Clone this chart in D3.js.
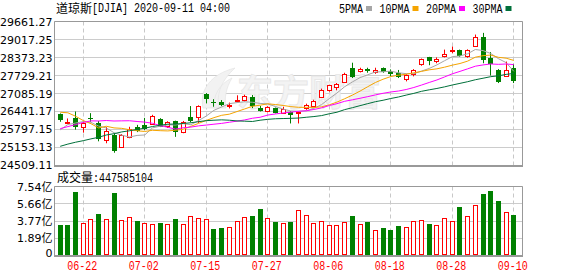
<!DOCTYPE html>
<html lang="zh">
<head>
<meta charset="UTF-8">
<title>道琼斯[DJIA]</title>
<script src="https://d3js.org/d3.v7.min.js"></script>
<style>
  body { margin: 0; background: #fff; }
  svg { display: block; }
  .ylab text { font-family: "DejaVu Sans", "Noto Sans CJK SC", sans-serif; font-size: 11px; fill: #000; }
  .mono { font-family: "Liberation Mono", "Noto Sans CJK SC", monospace; font-size: 13px; fill: #000; }
  .cjk { font-family: "Noto Sans CJK SC", sans-serif; font-size: 12px; fill: #000; }
</style>
</head>
<body>
<svg id="chart" width="578" height="276"></svg>
<script>
// ---- data ----
const dates = [
  "06-17","06-18","06-19","06-22","06-23","06-24","06-25","06-26","06-29","06-30",
  "07-01","07-02","07-06","07-07","07-08","07-09","07-10","07-13","07-14","07-15",
  "07-16","07-17","07-20","07-21","07-22","07-23","07-24","07-27","07-28","07-29",
  "07-30","07-31","08-03","08-04","08-05","08-06","08-07","08-10","08-11","08-12",
  "08-13","08-14","08-17","08-18","08-19","08-20","08-21","08-24","08-25","08-26",
  "08-27","08-28","08-31","09-01","09-02","09-03","09-04","09-08","09-09","09-10"];

const opens = [26340,26030,26213,25900,26210,26030,25420,25610,25150,25520,
  25880,25960,26000,26170,25920,26100,25710,26250,26250,27060,
  26770,26780,26650,26800,26850,26950,26560,26460,26550,26400,
  26430,26390,26560,26630,26950,27210,27310,27510,27990,27880,
  27960,27850,28000,27880,27830,27610,27780,28130,28380,28250,
  28420,28600,28650,28440,28780,29120,28350,27940,27720,28000];
const highs = [26370,26190,26440,26080,26380,26100,25880,25660,25630,25890,
  25960,26210,26320,26200,26090,26110,26100,26635,26660,27100,
  26880,26850,26760,27020,27040,27030,26640,26630,26580,26610,
  26450,26440,26720,26860,27260,27400,27460,27830,28190,28010,
  28010,28010,28020,27950,27930,27780,27960,28340,28400,28380,
  28660,28770,28660,28670,29200,29260,28570,27960,28230,28150];
const lows = [26070,26000,25790,25680,26070,25370,25300,24960,25130,25480,
  25700,25770,25990,25880,25850,25530,25660,26050,26030,26730,
  26610,26630,26550,26780,26800,26560,26440,26410,26370,26370,
  26010,26010,26500,26600,26940,27150,27200,27460,27640,27840,
  27830,27790,27830,27700,27640,27520,27700,28080,28100,28170,
  28380,28530,28400,28370,28770,28170,27730,27460,27690,27460];
const closes = [26120,26080,25871,26025,26156,25446,25746,25016,25596,25813,
  25735,25827,26287,25890,26067,25706,26075,26086,26643,26870,
  26735,26672,26681,26840,27006,26652,26470,26585,26379,26540,
  26314,26428,26664,26828,27202,27387,27433,27791,27687,27977,
  27897,27931,27845,27778,27693,27740,27930,28308,28248,28332,
  28492,28654,28430,28646,29100,28293,28133,27501,27940,27535];
const prevClose = 26290; // 06-16, sets the colour of the first volume bar

const volumes = [333000000,333000000,699000000,352000000,396000000,454000000,396000000,685000000,388000000,418000000,
  377000000,355000000,341000000,355000000,341000000,396000000,341000000,428000000,406000000,396000000,
  289000000,300000000,311000000,377000000,418000000,432000000,509000000,406000000,366000000,352000000,
  366000000,494000000,440000000,352000000,374000000,330000000,330000000,363000000,432000000,341000000,
  366000000,278000000,300000000,278000000,322000000,308000000,374000000,385000000,344000000,330000000,
  406000000,374000000,531000000,428000000,549000000,674000000,707000000,597000000,472000000,447585104];

const ma5 = [25781,25972,26025,26077,26050,25916,25849,25678,25592,25523,
  25581,25597,25852,25910,25961,25955,26005,25965,26115,26276,
  26482,26601,26720,26760,26787,26770,26730,26711,26618,26525,
  26458,26449,26465,26555,26687,26902,27103,27328,27500,27655,
  27757,27857,27867,27886,27829,27797,27797,27890,27984,28112,
  28262,28407,28431,28511,28664,28625,28520,28335,28193,27880];
const ma10 = [26413,26393,26269,26115,26003,25849,25910,25851,25835,25787,
  25748,25723,25765,25751,25742,25768,25801,25908,26013,26119,
  26219,26303,26343,26438,26531,26626,26666,26715,26689,26656,
  26614,26590,26588,26587,26606,26680,26776,26897,27027,27171,
  27329,27480,27598,27693,27742,27777,27827,27879,27935,27970,
  28030,28102,28161,28247,28388,28443,28464,28383,28352,28272];
const ma20 = [25823,25898,25968,26046,26104,26099,26116,26098,26104,26108,
  26081,26058,26017,25933,25873,25808,25856,25880,25924,25953,
  25984,26013,26054,26094,26137,26197,26233,26312,26351,26387,
  26416,26446,26465,26512,26569,26653,26721,26806,26858,26914,
  26972,27035,27093,27140,27174,27228,27301,27388,27481,27571,
  27680,27791,27879,27970,28065,28110,28145,28131,28144,28121];
const ma30 = [25190,25270,25337,25393,25457,25514,25597,25643,25707,25747,
  25798,25840,25900,25948,25984,25989,26011,26035,26074,26111,
  26127,26140,26126,26101,26092,26081,26126,26158,26179,26187,
  26194,26205,26232,26258,26293,26358,26414,26507,26576,26649,
  26721,26791,26843,26906,26960,27028,27090,27164,27217,27266,
  27324,27390,27449,27509,27579,27633,27689,27719,27771,27805];

const maNames = ["5PMA", "10PMA", "20PMA", "30PMA"];
const maColors = ["#a6a6a6", "#f5a400", "#ff00ff", "#00703a"];

const priceTicks = [24509.11, 25153.13, 25797.15, 26441.17, 27085.19, 27729.21, 28373.23, 29017.25, 29661.27];
const volTicks = [0, 188500000, 377000000, 565500000, 754000000];
const volTickLabels = ["0", "1.89亿", "3.77亿", "5.66亿", "7.54亿"];
const xLabelDates = ["06-22", "07-02", "07-15", "07-27", "08-06", "08-18", "08-28", "09-10"];

// ---- layout ----
const RED = "#ff0000", GREEN = "#008000";
const L = 54.5, R = 522.5;
const mainTop = 21.5, mainBot = 165.5;
const volTop = 186.5, volBot = 255.5;

const svg = d3.select("#chart");

const x = d3.scalePoint().domain(dates).range([60.2, 513.8]);
const y = d3.scaleLinear().domain([priceTicks[0], priceTicks[priceTicks.length - 1]]).range([165.3, 21.7]);
const yv = d3.scaleLinear().domain([0, volTicks[volTicks.length - 1]]).range([255.3, 186.7]);
const cx = d => Math.floor(x(d)) + 0.5;
const crisp = v => Math.round(v) + 0.5;

// horizontal grid
svg.append("g").selectAll("line").data(priceTicks).join("line")
  .attr("x1", L).attr("x2", R)
  .attr("y1", d => crisp(y(d) - 0.5)).attr("y2", d => crisp(y(d) - 0.5))
  .attr("stroke", "#cccccc");
svg.append("g").selectAll("line").data(volTicks).join("line")
  .attr("x1", L).attr("x2", R)
  .attr("y1", d => crisp(yv(d) - 0.5)).attr("y2", d => crisp(yv(d) - 0.5))
  .attr("stroke", "#cccccc");

// vertical dashed grid
[[mainTop, mainBot], [volTop, volBot]].forEach(([t, b]) => {
  svg.append("g").selectAll("line").data(xLabelDates).join("line")
    .attr("x1", d => cx(d)).attr("x2", d => cx(d))
    .attr("y1", t).attr("y2", b)
    .attr("stroke", "#c8c8c8").attr("stroke-dasharray", "4,3");
});

// watermark
const wm = svg.append("g");
wm.append("path")
  .attr("d", "M203,108 C199,90 211,74 235,68 C222,80 216,93 219,108 Z M214,108 C213,96 219,84 232,78 C226,88 224,98 226,108 Z")
  .attr("fill", "#f2f2f2").attr("stroke", "#e6e6e6").attr("stroke-width", 0.8);
wm.append("text")
  .attr("x", 237).attr("y", 106)
  .style("font-family", "Noto Sans CJK SC").style("font-size", "36px").style("font-weight", "bold")
  .attr("fill", "#f3f3f3").attr("stroke", "#e6e6e6").attr("stroke-width", 0.8)
  .text("东方财富");

// borders
const border = svg.append("g").attr("stroke", "#999999").attr("fill", "none");
border.append("path").attr("d", `M${L},${mainBot}V${mainTop}H${R}V${mainBot}`);
border.append("line").attr("x1", L - 0.5).attr("x2", R + 0.5).attr("y1", mainBot + 0.5).attr("y2", mainBot + 0.5).attr("stroke-width", 2);
border.append("path").attr("d", `M${L},${volBot}V${volTop}H${R}V${volBot}`);
border.append("line").attr("x1", L - 0.5).attr("x2", R + 0.5).attr("y1", volBot + 0.5).attr("y2", volBot + 0.5).attr("stroke-width", 2);

// candles
svg.append("g").selectAll("g").data(dates).join("g").each(function (d, i) {
  const g = d3.select(this);
  const o = opens[i], c = closes[i], up = c >= o;
  const col = up ? RED : GREEN;
  const xc = cx(d);
  g.append("line").attr("x1", xc).attr("x2", xc)
    .attr("y1", y(highs[i])).attr("y2", y(lows[i])).attr("stroke", col);
  const yTop = Math.round(y(Math.max(o, c))), yBot = Math.round(y(Math.min(o, c)));
  if (up) {
    if (yBot - yTop < 1) {
      g.append("line").attr("x1", xc - 2.5).attr("x2", xc + 2.5)
        .attr("y1", yTop + 0.5).attr("y2", yTop + 0.5).attr("stroke", RED);
    } else {
      g.append("rect").attr("x", xc - 2).attr("y", yTop + 0.5)
        .attr("width", 4).attr("height", yBot - yTop)
        .attr("fill", "#fff").attr("stroke", RED);
    }
  } else {
    g.append("rect").attr("x", xc - 2.5).attr("y", yTop)
      .attr("width", 5).attr("height", Math.max(1, yBot - yTop))
      .attr("fill", GREEN);
  }
});

// moving averages
const maValues = [ma5, ma10, ma20, ma30];
const line = d3.line().x((v, i) => x(dates[i])).y(v => y(v));
svg.append("g").selectAll("path").data(maValues).join("path")
  .attr("d", line)
  .attr("fill", "none")
  .attr("stroke", (v, k) => maColors[k])
  .attr("stroke-width", 1);

// volume bars
const vBase = 255;
svg.append("g").selectAll("rect").data(dates).join("rect").each(function (d, i) {
  const up = closes[i] >= (i === 0 ? prevClose : closes[i - 1]);
  const top = Math.round(yv(volumes[i]));
  const r = d3.select(this);
  if (up) {
    r.attr("x", cx(d) - 2).attr("y", top + 0.5).attr("width", 4).attr("height", vBase - 1 - top)
      .attr("fill", "#fff").attr("stroke", RED);
  } else {
    r.attr("x", cx(d) - 2.5).attr("y", top).attr("width", 5).attr("height", vBase - top)
      .attr("fill", GREEN);
  }
});

// y axes
const gy = svg.append("g").attr("class", "ylab").attr("transform", `translate(${L},0)`)
  .call(d3.axisLeft(y).tickValues(priceTicks).tickFormat(d => d.toFixed(2)).tickSize(0).tickPadding(2));
gy.select(".domain").remove();
const gv = svg.append("g").attr("class", "ylab").attr("transform", `translate(${L},0)`)
  .call(d3.axisLeft(yv).tickValues(volTicks).tickFormat((d, i) => volTickLabels[i]).tickSize(0).tickPadding(2));
gv.select(".domain").remove();
gv.selectAll(".tick").filter((d, i) => i === 0).select("text").attr("dy", "0.1em");

// x axis labels
const gx = svg.append("g").attr("transform", "translate(0,258)")
  .call(d3.axisBottom(x).tickValues(xLabelDates).tickSize(0));
gx.select(".domain").remove();
gx.selectAll("text")
  .attr("class", "mono").attr("y", 12).attr("dy", 0).attr("dx", -1.5)
  .attr("textLength", 30).attr("lengthAdjust", "spacingAndGlyphs")
  .style("fill", RED).attr("fill", RED);

// title
svg.append("text").attr("class", "cjk").attr("x", 56).attr("y", 12.8).text("道琼斯");
svg.append("text").attr("class", "mono").attr("x", 92).attr("y", 12.3)
  .attr("textLength", 138).attr("lengthAdjust", "spacingAndGlyphs")
  .text("[DJIA] 2020-09-11 04:00");

// legend
let lx = 339;
maNames.forEach((name, k) => {
  const w = name.length * 6;
  svg.append("text").attr("class", "mono").attr("x", lx).attr("y", 12.5)
    .attr("textLength", w).attr("lengthAdjust", "spacingAndGlyphs").text(name);
  svg.append("rect").attr("x", lx + w + 3).attr("y", 6).attr("width", 6).attr("height", 5)
    .attr("fill", maColors[k]);
  lx += w + 16.5;
});

// volume label
svg.append("text").attr("class", "cjk").attr("x", 57).attr("y", 182).text("成交量");
svg.append("text").attr("class", "mono").attr("x", 93).attr("y", 182)
  .attr("textLength", 60).attr("lengthAdjust", "spacingAndGlyphs")
  .text(":" + volumes[volumes.length - 1]);
</script>
</body>
</html>
